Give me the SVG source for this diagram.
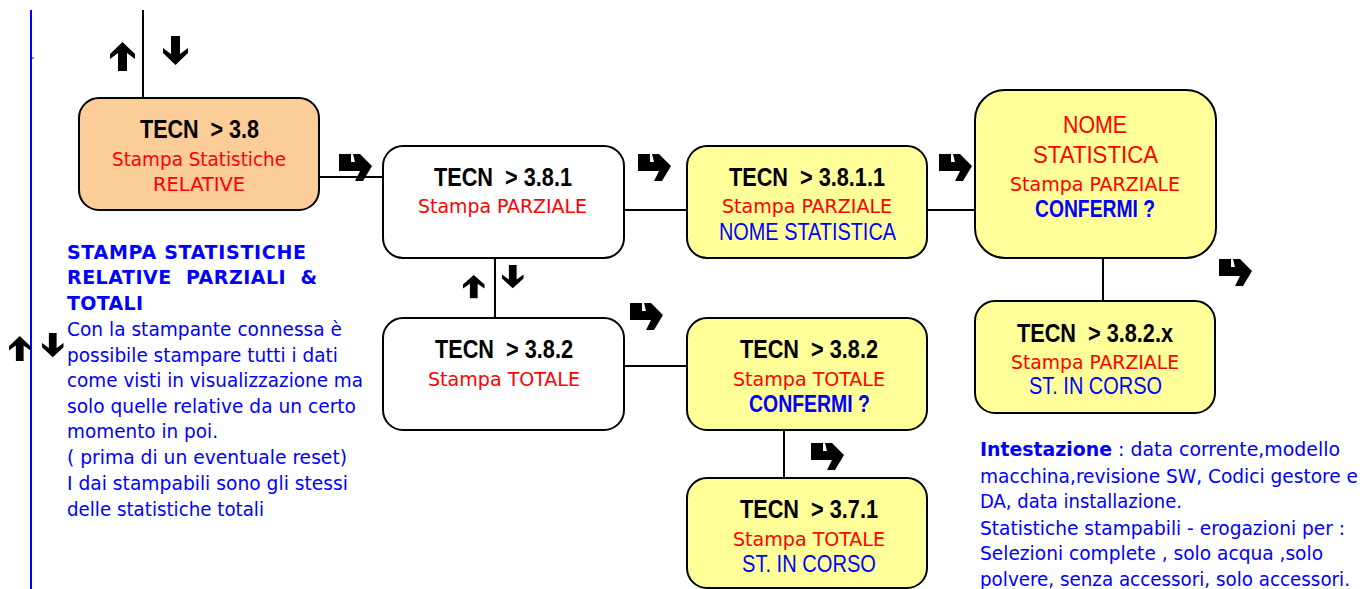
<svg xmlns="http://www.w3.org/2000/svg" xmlns:xlink="http://www.w3.org/1999/xlink" width="1371" height="589" viewBox="0 0 1371 589">
<style>
.box{stroke:#000;stroke-width:2}
.w{fill:#fff}
.y{fill:#ffff99}
.o{fill:#fccc99}
.ln{stroke:#000;stroke-width:2;fill:none}
.ar{fill:#000}
text{text-anchor:middle;white-space:pre}
.t{font-family:"Liberation Sans Narrow","Liberation Sans",Arial,sans-serif;font-weight:bold;font-size:26px;fill:#000}
.n{font-family:"Liberation Sans Narrow","Liberation Sans",Arial,sans-serif;font-size:24px}
.nb{font-family:"Liberation Sans Narrow","Liberation Sans",Arial,sans-serif;font-size:24px;font-weight:bold}
.r{font-family:"DejaVu Sans Condensed","DejaVu Sans",sans-serif;font-size:20px;fill:#ff0000}
.red{fill:#ff0000}
.blue{fill:#0000ff}
.p{font-family:"DejaVu Sans Condensed","DejaVu Sans",sans-serif;font-size:19px;fill:#0000ff;text-anchor:start}
.pb{font-family:"DejaVu Sans","DejaVu Sans Condensed",sans-serif;font-size:19px;font-weight:bold;fill:#0000ff;text-anchor:start}
</style>
<defs>
<path id="turn" d="M0,0 H12 V8 H16 L14,0 H21 L33,12 L24,27 H16 L21,17 H0 Z"/>
<path id="up" d="M12.5,0 L25,12 L25,17 L17,11 V29 H8 V11 L0,17 V12 Z"/>
<path id="down" d="M12.5,29 L25,17 L25,12 L17,18 V0 H8 V18 L0,12 V17 Z"/>
</defs>

<g id="margin">
<line x1="31" y1="10" x2="31" y2="589" stroke="#0000ff" stroke-width="2"/>
<line x1="31" y1="58" x2="34" y2="58" stroke="#0000ff" stroke-width="1"/>
</g>

<g id="connectors">
<line class="ln" x1="143" y1="10" x2="143" y2="107"/>
<line class="ln" x1="319" y1="177" x2="383" y2="177"/>
<line class="ln" x1="624" y1="210" x2="687" y2="210"/>
<line class="ln" x1="927" y1="210" x2="975" y2="210"/>
<line class="ln" x1="1103" y1="258" x2="1103" y2="306"/>
<line class="ln" x1="495" y1="258" x2="495" y2="318"/>
<line class="ln" x1="624" y1="366" x2="687" y2="366"/>
<line class="ln" x1="784" y1="430" x2="784" y2="478"/>
<g class="ar">
<use xlink:href="#up" transform="translate(110,42)"/>
<use xlink:href="#down" transform="translate(163,36)"/>
<use xlink:href="#up" transform="translate(463,275) scale(0.86,0.8)"/>
<use xlink:href="#down" transform="translate(502,265) scale(0.86,0.8)"/>
<use xlink:href="#up" transform="translate(9,336) scale(0.86,0.86)"/>
<use xlink:href="#down" transform="translate(42,333) scale(0.86,0.84)"/>
<use xlink:href="#turn" transform="translate(339,154)"/>
<use xlink:href="#turn" transform="translate(638,154)"/>
<use xlink:href="#turn" transform="translate(939,154)"/>
<use xlink:href="#turn" transform="translate(1219,259)"/>
<use xlink:href="#turn" transform="translate(630,303)"/>
<use xlink:href="#turn" transform="translate(811,443)"/>
</g>
</g>

<g id="node-3-8">
<rect class="box o" x="79" y="98" width="240" height="112" rx="20"/>
<text class="t" x="199.5" y="138" textLength="119" lengthAdjust="spacingAndGlyphs">TECN  &gt; 3.8</text>
<text class="r" x="199" y="166" textLength="174" lengthAdjust="spacingAndGlyphs">Stampa Statistiche</text>
<text class="r" x="199" y="191" textLength="92" lengthAdjust="spacingAndGlyphs">RELATIVE</text>
</g>

<g id="node-3-8-1">
<rect class="box w" x="383" y="146" width="241" height="112" rx="20"/>
<text class="t" x="503" y="186" textLength="138" lengthAdjust="spacingAndGlyphs">TECN  &gt; 3.8.1</text>
<text class="r" x="502.5" y="213" textLength="169" lengthAdjust="spacingAndGlyphs">Stampa PARZIALE</text>
</g>

<g id="node-3-8-1-1">
<rect class="box y" x="687" y="146" width="240" height="112" rx="20"/>
<text class="t" x="807" y="186" textLength="156" lengthAdjust="spacingAndGlyphs">TECN  &gt; 3.8.1.1</text>
<text class="r" x="807" y="213" textLength="170" lengthAdjust="spacingAndGlyphs">Stampa PARZIALE</text>
<text class="n blue" x="807.5" y="240" textLength="177" lengthAdjust="spacingAndGlyphs">NOME STATISTICA</text>
</g>

<g id="node-nome-statistica">
<rect class="box y" x="975" y="90" width="241" height="168" rx="30"/>
<text class="n red" x="1095" y="133" font-size="27" textLength="64" lengthAdjust="spacingAndGlyphs">NOME</text>
<text class="n red" x="1095.5" y="163" font-size="27" textLength="125" lengthAdjust="spacingAndGlyphs">STATISTICA</text>
<text class="r" x="1095" y="191" textLength="170" lengthAdjust="spacingAndGlyphs">Stampa PARZIALE</text>
<text class="nb blue" x="1095" y="217" textLength="120" lengthAdjust="spacingAndGlyphs">CONFERMI ?</text>
</g>

<g id="node-3-8-2-x">
<rect class="box y" x="975" y="301" width="240" height="112" rx="20"/>
<text class="t" x="1095" y="342" textLength="156" lengthAdjust="spacingAndGlyphs">TECN  &gt; 3.8.2.x</text>
<text class="r" x="1095" y="369" textLength="168" lengthAdjust="spacingAndGlyphs">Stampa PARZIALE</text>
<text class="n blue" x="1095.5" y="394" textLength="133" lengthAdjust="spacingAndGlyphs">ST. IN CORSO</text>
</g>

<g id="node-3-8-2">
<rect class="box w" x="383" y="318" width="241" height="112" rx="20"/>
<text class="t" x="504" y="358" textLength="138" lengthAdjust="spacingAndGlyphs">TECN  &gt; 3.8.2</text>
<text class="r" x="504" y="386" textLength="152" lengthAdjust="spacingAndGlyphs">Stampa TOTALE</text>
</g>

<g id="node-3-8-2-conf">
<rect class="box y" x="687" y="318" width="240" height="112" rx="20"/>
<text class="t" x="809" y="358" textLength="138" lengthAdjust="spacingAndGlyphs">TECN  &gt; 3.8.2</text>
<text class="r" x="809" y="386" textLength="152" lengthAdjust="spacingAndGlyphs">Stampa TOTALE</text>
<text class="nb blue" x="809.5" y="412" textLength="121" lengthAdjust="spacingAndGlyphs">CONFERMI ?</text>
</g>

<g id="node-3-7-1">
<rect class="box y" x="687" y="478" width="240" height="110" rx="20"/>
<text class="t" x="809" y="518" textLength="138" lengthAdjust="spacingAndGlyphs">TECN  &gt; 3.7.1</text>
<text class="r" x="809" y="546" textLength="152" lengthAdjust="spacingAndGlyphs">Stampa TOTALE</text>
<text class="n blue" x="809" y="572" textLength="134" lengthAdjust="spacingAndGlyphs">ST. IN CORSO</text>
</g>

<g id="note-left">
<text class="pb" x="67" y="259" textLength="239" lengthAdjust="spacing">STAMPA STATISTICHE</text>
<text class="pb" x="67" y="284" textLength="250" lengthAdjust="spacing">RELATIVE  PARZIALI  &amp;</text>
<text class="pb" x="67" y="310" textLength="76" lengthAdjust="spacing">TOTALI</text>
<text class="p" x="67" y="336" textLength="275" lengthAdjust="spacingAndGlyphs">Con la stampante connessa è</text>
<text class="p" x="67" y="362" textLength="271" lengthAdjust="spacingAndGlyphs">possibile stampare tutti i dati</text>
<text class="p" x="67" y="387" textLength="296" lengthAdjust="spacingAndGlyphs">come visti in visualizzazione ma</text>
<text class="p" x="67" y="413" textLength="289" lengthAdjust="spacingAndGlyphs">solo quelle relative da un certo</text>
<text class="p" x="67" y="438" textLength="151" lengthAdjust="spacingAndGlyphs">momento in poi.</text>
<text class="p" x="67" y="464" textLength="280" lengthAdjust="spacingAndGlyphs">( prima di un eventuale reset)</text>
<text class="p" x="67" y="490" textLength="281" lengthAdjust="spacingAndGlyphs">I dai stampabili sono gli stessi</text>
<text class="p" x="67" y="516" textLength="197" lengthAdjust="spacingAndGlyphs">delle statistiche totali</text>
</g>

<g id="note-right">
<text class="p" x="980" y="456" textLength="360" lengthAdjust="spacingAndGlyphs"><tspan font-weight="bold">Intestazione</tspan> : data corrente,modello</text>
<text class="p" x="980" y="483" textLength="378" lengthAdjust="spacingAndGlyphs">macchina,revisione SW, Codici gestore e</text>
<text class="p" x="980" y="508" textLength="202" lengthAdjust="spacingAndGlyphs">DA, data installazione.</text>
<text class="p" x="980" y="535" textLength="365" lengthAdjust="spacingAndGlyphs">Statistiche stampabili - erogazioni per :</text>
<text class="p" x="980" y="560" textLength="343" lengthAdjust="spacingAndGlyphs">Selezioni complete , solo acqua ,solo</text>
<text class="p" x="980" y="586" textLength="370" lengthAdjust="spacingAndGlyphs">polvere, senza accessori, solo accessori.</text>
</g>
</svg>
